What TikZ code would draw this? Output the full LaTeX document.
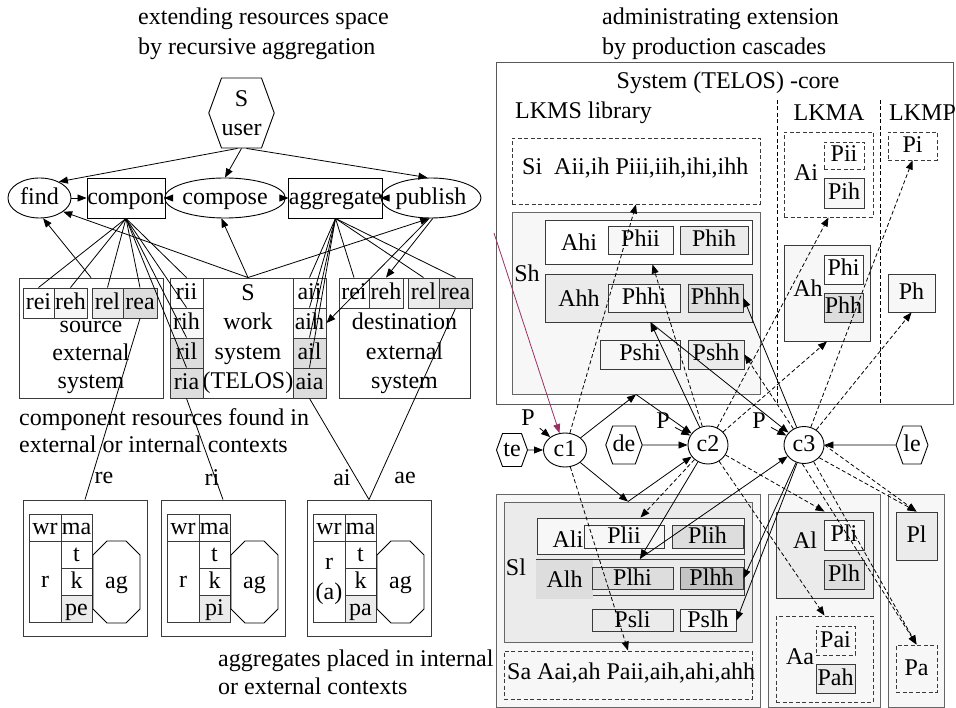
\documentclass[tikz,border=0pt]{standalone}
\usepackage{fontspec}
\setmainfont{Liberation Serif}
\usetikzlibrary{arrows.meta,shapes.geometric,shapes.symbols,shapes.misc}
\definecolor{edgex}{HTML}{3A3A3A}
\definecolor{paleg}{HTML}{F7F7F7}
\definecolor{lightg}{HTML}{EBEBEB}
\definecolor{midg}{HTML}{DDDDDD}
\definecolor{darkg}{HTML}{C4C4C4}
\definecolor{maroon}{HTML}{9B2F62}
\tikzset{
  wh/.style 2 args={minimum width=#1,minimum height=#2},
  tx/.style={text height=17.5pt,text depth=4.5pt},
  cell/.style={draw=edgex,inner sep=0pt,line width=0.9pt,tx},
  dcell/.style={cell,dash pattern=on 4pt off 2.5pt},
  oval/.style={ellipse,draw=black,inner sep=0pt,line width=0.9pt,tx},
  hexa/.style={signal,signal to=west and east,signal pointer angle=140,draw=black,inner sep=0pt,line width=0.9pt},
  octa/.style={chamfered rectangle,chamfered rectangle xsep=14pt,draw=black,inner sep=0pt,line width=0.9pt,tx},
  ar/.style={-{Triangle[length=9pt,width=7pt]},line width=0.8pt},
  dar/.style={ar,dash pattern=on 4pt off 2.5pt},
  ln/.style={line width=0.8pt}
}

\begin{document}
\begin{tikzpicture}[x=1pt,y=-1pt,font=\fontsize{24}{29.5}\selectfont]
\useasboundingbox (0,0) rectangle (956,708);
% ---------- recursive aggregation ----------
\node[anchor=base west,inner sep=0pt] (lt1) at (138,25) {extending resources space};
\node[anchor=base west,inner sep=0pt] (lt2) at (138,55) {by recursive aggregation};
\node[hexa,wh={51}{70},align=center] (suser) at (241.5,113) {S\\user};
\node[oval,wh={63}{40}] (find) at (39.5,198) {find};
\node[cell,wh={78}{40},draw=black] (compon) at (126,198) {compon};
\node[oval,wh={74}{40}] (compose) at (225,198) {compose};
\node[cell,wh={87}{40},draw=black] (aggr) at (335.5,198) {aggregate};
\node[oval,wh={78}{40}] (publish) at (431,198) {publish};
\draw[ar] (find) -- (compon);
\draw[ar] (compon) -- (compose);
\draw[ar] (compose) -- (aggr);
\draw[ar] (aggr) -- (publish);
\draw[ar] ([xshift=-4]suser.south) -- (find.40);
\draw[ar] (suser.south) -- (compose.north);
\draw[ar] ([xshift=5]suser.south) -- (publish.100);

% source / work / destination systems
\node[cell,wh={144}{120}] (srcsys) at (91,338) {};
\foreach \t [count=\i] in {source,external,system}
  \node[anchor=base,inner sep=0pt] (src\i) at (91,{305+\i*28}) {\t};
\node[cell,wh={31}{30}] (srei) at (38.5,303) {rei};
\node[cell,wh={33}{30},fill=paleg] (sreh) at (70.5,303) {reh};
\node[cell,wh={31}{30},fill=lightg] (srel) at (107.5,303) {rel};
\node[cell,wh={34}{30},fill=midg] (srea) at (140,303) {rea};

\node[cell,wh={156}{120}] (wsys) at (248,338) {};
\foreach \t [count=\i] in {S,work,system,(TELOS)}
  \node[anchor=base,inner sep=0pt] (ws\i) at (248,{271+\i*29.5}) {\t};
\foreach \nm/\y/\col in {ii/293/white,ih/323/paleg,il/353/midg,ia/383/midg}{
  \node[cell,wh={33}{30},fill=\col] (r\nm) at (186.5,\y) {r\nm};
  \node[cell,wh={33}{30},fill=\col] (a\nm) at (309.5,\y) {a\nm};
}

\node[cell,wh={131}{120}] (dstsys) at (404.5,338) {};
\foreach \t [count=\i] in {destination,external,system}
  \node[anchor=base,inner sep=0pt] (dst\i) at (404.5,{300.5+\i*29.5}) {\t};
\node[cell,wh={30}{30}] (drei) at (354,293) {rei};
\node[cell,wh={34}{30},fill=paleg] (dreh) at (386,293) {reh};
\node[cell,wh={31}{30},fill=lightg] (drel) at (423.5,293) {rel};
\node[cell,wh={33}{30},fill=midg] (drea) at (455.5,293) {rea};

% component lines and aggregate lines
\foreach \c in {srei,sreh,srel,srea,rii,rih,ril,ria}
  \draw[ln] (compon.south) -- (\c.north);
\foreach \c in {aii,aih,ail,aia,drei,drel,drea}
  \draw[ln] (aggr.south) -- (\c.north);
\draw[ar] (srcsys.north) -- (find.-80);
\draw[ar] (wsys.north) -- (find.-30);
\draw[ar] (wsys.north) -- (compose.-100);
\draw[ar] (wsys.north) -- (publish.-95);
\draw[ar] (publish.-85) -- (dreh.north);
\draw[ar] (publish.-95) -- (aih.east);

\node[anchor=base west,inner sep=0pt] (lc1) at (19,425) {component resources found in};
\node[anchor=base west,inner sep=0pt] (lc2) at (19,453) {external or internal contexts};

% placed aggregates
\foreach \dx/\p/\rt/\nm in {0/pe/r/ga,138/pi/r/gb,284/pa/{r\\(a)}/gc}{
  \begin{scope}[xshift=\dx]
  \node[cell,wh={124}{136}] (\nm) at (85,568) {};
  \node[cell,wh={32}{27}] (\nm wr) at (45,527.5) {wr};
  \node[cell,wh={31}{27}] (\nm ma) at (76.5,527.5) {ma};
  \node[cell,wh={32}{81},align=center,text height=,text depth=] (\nm r) at (45,581.5) {\rt};
  \node[cell,wh={31}{27}] (\nm t) at (76.5,554.5) {t};
  \node[cell,wh={31}{27}] (\nm k) at (76.5,581.5) {k};
  \node[cell,wh={31}{27},fill=lightg] (\nm p) at (76.5,608.5) {\p};
  \node[octa,wh={47}{82}] (\nm ag) at (116.5,582) {ag};
  \end{scope}
}
\draw[ln] (srea.south) -- (ga.north);
\draw[ln] (ria.south) -- (gb.north);
\draw[ln] (aia.south) -- (gc.north);
\draw[ln] (drea.south) -- (gc.north);
\node (lre) at (104,478) {re};
\node (lri) at (212,478) {ri};
\node (lai) at (342,478) {ai};
\node (lae) at (405,478) {ae};
\node[anchor=base west,inner sep=0pt] (lc3) at (218,666) {aggregates placed in internal};
\node[anchor=base west,inner sep=0pt] (lc4) at (218,694) {or external contexts};

% ---------- production cascades ----------
\node[anchor=base west,inner sep=0pt] (rt1) at (602,25) {administrating extension};
\node[anchor=base west,inner sep=0pt] (rt2) at (602,55) {by production cascades};
\node[cell,wh={457}{342},draw=black!65] (core) at (724.5,233) {};
\node (coretxt) at (728,83) {System (TELOS) -core};
\node[anchor=west,inner sep=0pt] (lkms) at (515,113) {LKMS library};
\node (lkma) at (829,113) {LKMA};
\node[anchor=west,inner sep=0pt] (lkmp) at (889,113) {LKMP};
\draw[ln,dash pattern=on 4pt off 2.5pt] (777,100) -- (777,404) (880,100) -- (880,404);

\node[dcell,wh={248}{66}] (si) at (636,171) {};
\node[anchor=west,inner sep=0pt] (sitxt) at (522,168) {Si\ \ Aii,ih Piii,iih,ihi,ihh};
\node[dcell,wh={89}{85}] (ai) at (828.5,174.5) {};
\node (aitxt) at (806,173) {Ai};
\node[dcell,wh={40}{27}] (pii) at (844,155.5) {Pii};
\node[cell,wh={40}{30},fill=paleg] (pih) at (844,193) {Pih};
\node[dcell,wh={49}{28}] (pi) at (912.5,146) {Pi};

\node[cell,wh={248}{182},fill=paleg,draw=black!60] (sh) at (636,303) {};
\node (shtxt) at (527,273) {Sh};
\node[cell,wh={207}{44},fill=white] (ahi) at (648.5,242) {};
\node (ahitxt) at (579,242) {Ahi};
\node[cell,wh={65}{28},fill=paleg] (phii) at (640.5,240) {Phii};
\node[cell,wh={68}{28},fill=lightg] (phih) at (714,240) {Phih};
\node[cell,wh={207}{48},fill=lightg] (ahh) at (648.5,298) {};
\node (ahhtxt) at (579,298) {Ahh};
\node[cell,wh={72}{28},fill=paleg] (phhi) at (644,298) {Phhi};
\node[cell,wh={55}{28},fill=midg] (phhh) at (715.5,298) {Phhh};
\node[cell,wh={80}{29},fill=paleg] (pshi) at (640,354.5) {Pshi};
\node[cell,wh={56}{29},fill=lightg] (pshh) at (716,354.5) {Pshh};

\node[cell,wh={86}{96},fill=paleg] (ah) at (827,293) {};
\node (ahtxt) at (808,288) {Ah};
\node[cell,wh={39}{29},fill=white] (phi) at (843.5,269.5) {Phi};
\node[cell,wh={39}{29},fill=midg] (phh) at (843.5,307.5) {Phh};
\node[cell,wh={47}{38},fill=paleg] (ph) at (911.5,293) {Ph};

% controllers
\node[hexa,wh={31}{33},tx] (te) at (512,450) {te};
\node[oval,wh={43}{34}] (c1) at (565,450) {c1};
\node[hexa,wh={31}{38},tx] (de) at (624,445) {de};
\node[oval,wh={40}{38}] (c2) at (708,445) {c2};
\node[oval,wh={40}{37}] (c3) at (804,445) {c3};
\node[hexa,wh={32}{38},tx] (le) at (912,445) {le};
\node (p1) at (528,418) {P};
\node (p2) at (663,421) {P};
\node (p3) at (759,421) {P};
\draw[ar,shorten <=2pt] (p1) -- (c1);
\draw[ar,shorten <=2pt] (p2) -- (c2);
\draw[ar,shorten <=2pt] (p3) -- (c3);
\draw[ar] (te) -- (c1);
\draw[ar] (de) -- (c2);
\draw[ar] (le) -- (c3);

% lower libraries
\node[cell,wh={264}{213},fill=paleg,draw=black!60] (lcol) at (628,600.5) {};
\node[cell,wh={248}{140},fill=lightg,draw=black!60] (sl) at (628,572) {};
\node (sltxt) at (516,567) {Sl};
\node[cell,wh={207}{36},fill=paleg] (ali) at (640.5,536) {};
\node (alitxt) at (568,539) {Ali};
\node[cell,wh={80}{23},fill=paleg] (plii) at (624,536.5) {Plii};
\node[cell,wh={71}{23},fill=midg] (plih) at (707.5,536.5) {Plih};
\node[cell,wh={208}{36},fill=lightg] (alh) at (640,577) {};
\node[fill=midg,wh={57}{39},inner sep=0pt] (alhtxt) at (564.5,579.5) {Alh};
\node[cell,wh={81}{21},fill=midg] (plhi) at (632.5,578.5) {Plhi};
\node[cell,wh={63}{21},fill=darkg] (plhh) at (711.5,578.5) {Plhh};
\node[cell,wh={81}{21},fill=lightg] (psli) at (632.5,620.5) {Psli};
\node[cell,wh={56}{21},fill=paleg] (pslh) at (708,620.5) {Pslh};
\node[dcell,wh={248}{48}] (sa) at (628,675) {};
\node[anchor=west,inner sep=0pt] (satxt) at (507,673) {Sa Aai,ah Paii,aih,ahi,ahh};

\node[cell,wh={112}{213},fill=paleg,draw=black!60] (acol) at (824,600.5) {};
\node[cell,wh={97}{86},fill=lightg] (al) at (824.5,555) {};
\node (altxt) at (805,540) {Al};
\node[cell,wh={40}{30},fill=paleg] (pli) at (844,535) {Pli};
\node[cell,wh={40}{29},fill=midg] (plh) at (844,574.5) {Plh};
\node[dcell,wh={97}{86}] (aa) at (824.5,659) {};
\node (aatxt) at (800,657) {Aa};
\node[dcell,wh={39}{29}] (pai) at (835.5,640.5) {Pai};
\node[cell,wh={39}{29},fill=lightg] (pah) at (835.5,678.5) {Pah};

\node[cell,wh={56}{213},fill=paleg,draw=black!60] (pcol) at (916,600.5) {};
\node[cell,wh={41}{48},fill=lightg] (pl) at (916.5,536) {Pl};
\node[dcell,wh={41}{47}] (pa) at (916.5,668.5) {Pa};

% cascade connectors
\coordinate (mstart) at (494,233);
\draw[ar,maroon] (mstart) -- (c1);
\draw[ar] (c1) -- (sh.south);
\draw[ar] (sh.south) -- (c2);
\draw[ar] (c1) -- (sl.north);
\draw[ar] (sl.north) -- (c2);
\draw[dar] (c1) -- (si.south);
\draw[dar] (c1) -- (sa.north);
\draw[ar] (c2) -- ([xshift=2]ahh.south);
\draw[ar] ([xshift=2]ahh.south) -- (c3);
\draw[dar] (c2) -- ([xshift=4]ahi.south);
\draw[dar] (c2) -- (ai.south);
\draw[dar] (c2) -- (ah.south);
\draw[dar] (c3) -- (pi.south);
\draw[dar] (c3) -- (ph.south);
\draw[ar] (c3) -- (phhh.east);
\draw[dar] (c3) -- (pshh.east);
\draw[dar] (c2) -- (ali.north);
\draw[ar] (c2) -- (alh.north);
\draw[ar] (alh.north) -- (c3);
\draw[ar] (c3) -- (plhh.east);
\draw[ar] (c3) -- (pslh.east);
\draw[dar] (c2) -- (al.north);
\draw[dar] (c2) -- (aa.north);
\draw[dar] (c3.east) -- (pl.north);
\draw[dar] (c3.-40) -- (pl.north);
\draw[dar] (c3.-60) -- (pa.north);
\draw[dar] (c3.-95) -- (pa.north);
\end{tikzpicture}
\end{document}
